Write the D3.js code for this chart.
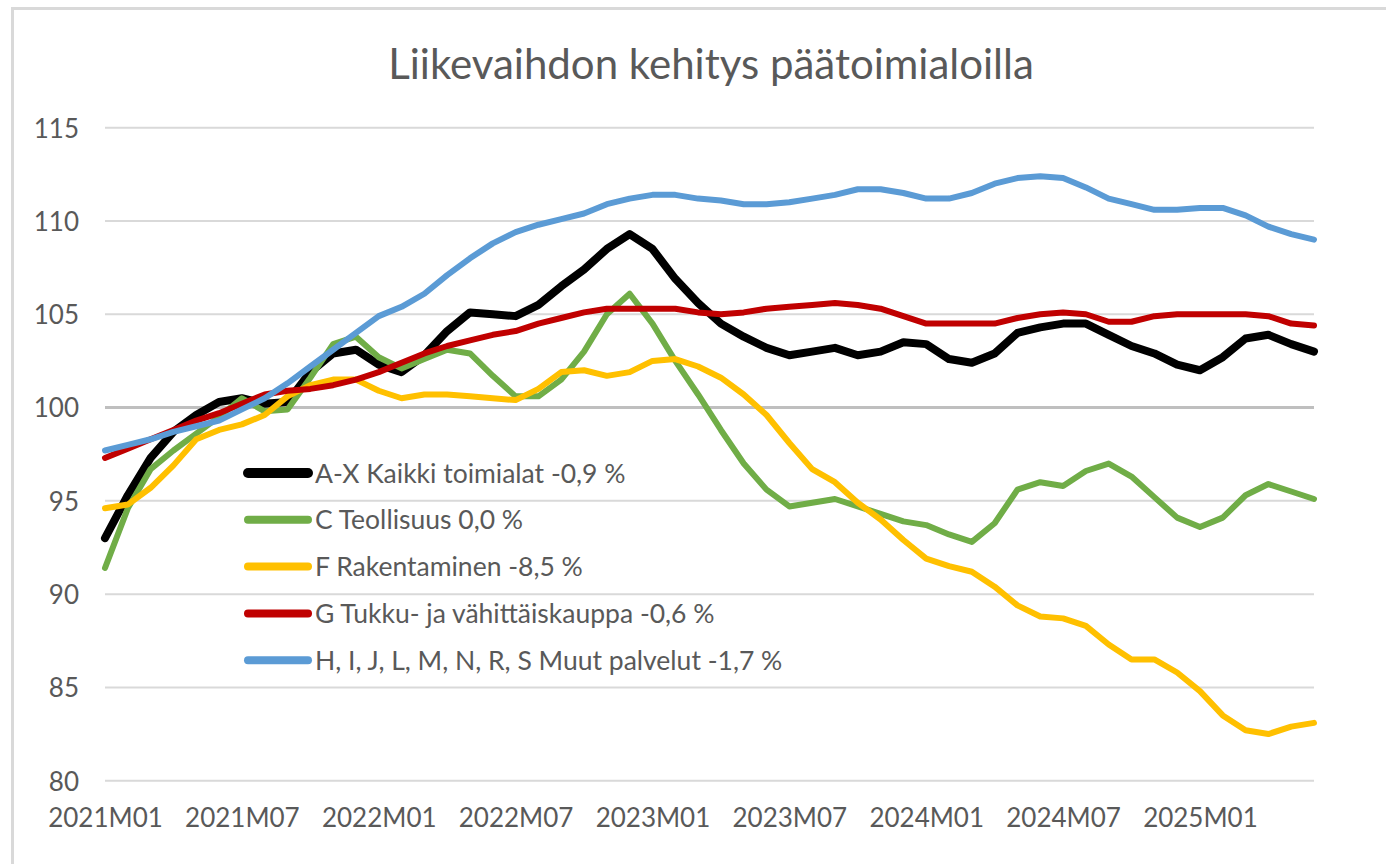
<!DOCTYPE html>
<html>
<head>
<meta charset="utf-8">
<script src="https://cdn.jsdelivr.net/npm/d3@7"></script>
<style>
  html, body { margin: 0; padding: 0; background: #fff; }
  svg { display: block; }
  text { font-family: Lato, "Open Sans", sans-serif; fill: #595959; }
</style>
</head>
<body>
<svg id="chart" width="1386" height="864"></svg>
<script>
const title = "Liikevaihdon kehitys päätoimialoilla";

// 2021M01 .. 2025M06
const months = [];
for (let y = 2021; y <= 2025; y++) {
  for (let m = 1; m <= 12; m++) {
    if (y === 2025 && m > 6) break;
    months.push(y + "M" + String(m).padStart(2, "0"));
  }
}
const tickLabels = ["2021M01","2021M07","2022M01","2022M07","2023M01","2023M07","2024M01","2024M07","2025M01"];
const yTicks = [80, 85, 90, 95, 100, 105, 110, 115];

const seriesNames = [
  "A-X Kaikki toimialat -0,9 %",
  "C Teollisuus 0,0 %",
  "F Rakentaminen -8,5 %",
  "G Tukku- ja vähittäiskauppa -0,6 %",
  "H, I, J, L, M, N, R, S Muut palvelut -1,7 %"
];
const seriesColors = ["#000000", "#70AD47", "#FFC000", "#C00000", "#5B9BD5"];

const kaikki = [93.0,95.3,97.3,98.7,99.6,100.3,100.5,100.2,100.3,101.9,102.9,103.1,102.3,101.9,102.8,104.1,105.1,105.0,104.9,105.5,106.5,107.4,108.5,109.3,108.5,106.9,105.6,104.5,103.8,103.2,102.8,103.0,103.2,102.8,103.0,103.5,103.4,102.6,102.4,102.9,104.0,104.3,104.5,104.5,103.9,103.3,102.9,102.3,102.0,102.7,103.7,103.9,103.4,103.0];
const teollisuus = [91.4,94.6,96.7,97.7,98.6,99.5,100.5,99.8,99.9,101.6,103.4,103.8,102.7,102.1,102.6,103.1,102.9,101.7,100.6,100.6,101.5,103.0,105.0,106.1,104.5,102.5,100.7,98.8,97.0,95.6,94.7,94.9,95.1,94.7,94.3,93.9,93.7,93.2,92.8,93.8,95.6,96.0,95.8,96.6,97.0,96.3,95.2,94.1,93.6,94.1,95.3,95.9,95.5,95.1];
const rakentaminen = [94.6,94.8,95.7,96.9,98.3,98.8,99.1,99.6,100.6,101.2,101.5,101.5,100.9,100.5,100.7,100.7,100.6,100.5,100.4,101.0,101.9,102.0,101.7,101.9,102.5,102.6,102.2,101.6,100.7,99.6,98.1,96.7,96.0,94.9,94.0,92.9,91.9,91.5,91.2,90.4,89.4,88.8,88.7,88.3,87.3,86.5,86.5,85.8,84.8,83.5,82.7,82.5,82.9,83.1];
const kauppa = [97.3,97.8,98.3,98.8,99.3,99.7,100.2,100.7,100.9,101.0,101.2,101.5,101.9,102.4,102.9,103.3,103.6,103.9,104.1,104.5,104.8,105.1,105.3,105.3,105.3,105.3,105.1,105.0,105.1,105.3,105.4,105.5,105.6,105.5,105.3,104.9,104.5,104.5,104.5,104.5,104.8,105.0,105.1,105.0,104.6,104.6,104.9,105.0,105.0,105.0,105.0,104.9,104.5,104.4];
const palvelut = [97.7,98.0,98.3,98.7,99.0,99.3,99.9,100.5,101.3,102.2,103.1,104.0,104.9,105.4,106.1,107.1,108.0,108.8,109.4,109.8,110.1,110.4,110.9,111.2,111.4,111.4,111.2,111.1,110.9,110.9,111.0,111.2,111.4,111.7,111.7,111.5,111.2,111.2,111.5,112.0,112.3,112.4,112.3,111.8,111.2,110.9,110.6,110.6,110.7,110.7,110.3,109.7,109.3,109.0];

const seriesValues = [kaikki, teollisuus, rakentaminen, kauppa, palvelut];
const lineWidths = [8, 6, 6, 6, 6];
const legendWidths = [10, 8, 8, 8, 8];

const svg = d3.select("#chart");

// chart-area border (top and left visible)
svg.append("line").attr("x1", 12).attr("x2", 1386).attr("y1", 8.5).attr("y2", 8.5)
  .attr("stroke", "#d9d9d9").attr("stroke-width", 3);
svg.append("line").attr("x1", 12.5).attr("x2", 12.5).attr("y1", 7).attr("y2", 864)
  .attr("stroke", "#d9d9d9").attr("stroke-width", 3);

const x = d3.scalePoint().domain(months).range([105, 1314]);
const y = d3.scaleLinear().domain([80, 115]).range([780.7, 127.7]);

// gridlines
const grid = svg.append("g");
grid.selectAll("line").data(yTicks).join("line")
  .attr("x1", 105).attr("x2", 1314)
  .attr("y1", d => y(d)).attr("y2", d => y(d))
  .attr("stroke", d => d === 100 ? "#bfbfbf" : "#d9d9d9")
  .attr("stroke-width", d => d === 100 ? 3 : 2);

// y axis labels
const yAxis = d3.axisLeft(y).tickValues(yTicks).tickSize(0).tickPadding(0).tickFormat(d3.format("d"));
const gy = svg.append("g").attr("transform", "translate(79,0)").call(yAxis);
gy.select(".domain").remove();
gy.selectAll("text").style("font-size", "26px").style("font-family", "Lato").attr("fill", "#595959").attr("dy", "0.36em");

// x axis labels
const xAxis = d3.axisBottom(x).tickValues(tickLabels).tickSize(0).tickPadding(0);
const gx = svg.append("g").attr("transform", "translate(0,808)").call(xAxis);
gx.select(".domain").remove();
gx.selectAll("text").style("font-size", "26px").style("font-family", "Lato").attr("fill", "#595959").attr("dy", "0.72em");

// lines
const line = d3.line().x((d, i) => x(months[i])).y(d => y(d));
seriesValues.forEach((vals, k) => {
  svg.append("path").datum(vals)
    .attr("d", line)
    .attr("fill", "none")
    .attr("stroke", seriesColors[k])
    .attr("stroke-width", lineWidths[k])
    .attr("stroke-linejoin", "round")
    .attr("stroke-linecap", "round");
});

// legend
const legend = svg.append("g");
seriesNames.forEach((name, k) => {
  const cy = 473 + k * 46.8;
  legend.append("line").attr("x1", 248).attr("x2", 308).attr("y1", cy).attr("y2", cy)
    .attr("stroke", seriesColors[k]).attr("stroke-width", legendWidths[k]).attr("stroke-linecap", "round");
  legend.append("text").attr("x", 315).attr("y", cy).attr("dy", "0.36em")
    .style("font-size", "26.5px").text(name);
});

// title
svg.append("text").attr("x", 711).attr("y", 64).attr("dy", "0.36em")
  .attr("text-anchor", "middle").style("font-size", "42px").text(title);
</script>
</body>
</html>
